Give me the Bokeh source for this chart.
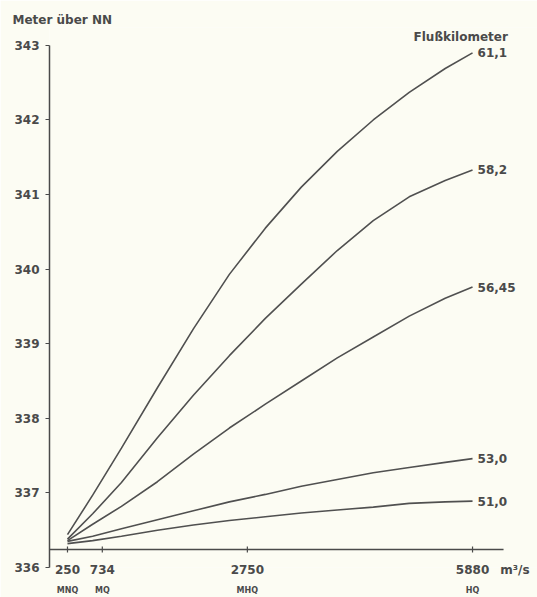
import math

from bokeh.core.properties import value
from bokeh.embed import file_html
from bokeh.models import ColumnDataSource, FixedTicker, Label, LabelSet, LinearAxis
from bokeh.plotting import figure
from bokeh.resources import INLINE

# Discharge (m³/s) at which the water levels were read
discharge = [250, 600, 1000, 1500, 2000, 2500, 3000, 3500, 4000, 4500, 5000, 5500, 5880]

# Water level (m above sea level) at each river kilometre
level_km_61_1 = [336.44, 336.97, 337.60, 338.41, 339.20, 339.93, 340.55, 341.10, 341.58, 342.00, 342.37, 342.69, 342.90]
level_km_58_2 = [336.38, 336.72, 337.14, 337.74, 338.31, 338.84, 339.34, 339.80, 340.25, 340.65, 340.97, 341.19, 341.33]
level_km_56_45 = [336.36, 336.58, 336.82, 337.15, 337.52, 337.87, 338.19, 338.50, 338.81, 339.09, 339.37, 339.61, 339.76]
level_km_53_0 = [336.35, 336.42, 336.52, 336.64, 336.76, 336.88, 336.98, 337.09, 337.18, 337.27, 337.34, 337.41, 337.46]
level_km_51_0 = [336.32, 336.36, 336.42, 336.50, 336.57, 336.63, 336.68, 336.73, 336.77, 336.81, 336.86, 336.88, 336.89]

km_names = ["61,1", "58,2", "56,45", "53,0", "51,0"]
km_levels = [level_km_61_1, level_km_58_2, level_km_56_45, level_km_53_0, level_km_51_0]

# Characteristic discharges
q_ticks = [250, 734, 2750, 5880]
q_tick_labels = ["250", "734", "2750", "5880"]
q_names = ["MNQ", "MQ", "MHQ", "HQ"]
level_ticks = [336, 337, 338, 339, 340, 341, 342, 343]

# Layout constants
BASE_LEVEL = 336.24   # level along which the discharge axis is drawn
Q_AXIS_END = 6311     # right end of the discharge axis line
UNIT_POS = 6470       # where the unit is written after the last tick
X_END = 6783
Y_END = 343.24

INK = "#4a4a4a"
CURVE = "#505050"
PAPER = "#fcfcf3"
FONT_NAME = "DejaVu Sans"
FONT = value(FONT_NAME)

p = figure(
    width=537, height=597,
    x_range=(0, X_END), y_range=(336, Y_END),
    x_axis_location=None, y_axis_location=None,
    min_border_left=49, min_border_right=0, min_border_top=27, min_border_bottom=30,
    background_fill_color=PAPER, border_fill_color=PAPER,
    outline_line_color=None,
    output_backend="svg", toolbar_location=None,
)
p.grid.visible = False

p.title.text = "Meter über NN"
p.title.align = "left"
p.title.offset = -37
p.title.standoff = 2
p.title.text_font = FONT_NAME
p.title.text_font_style = "bold"
p.title.text_font_size = "12px"
p.title.text_color = INK

# Level axis
yaxis = LinearAxis(ticker=FixedTicker(ticks=level_ticks), bounds=(level_ticks[0], level_ticks[-1]))
yaxis.axis_line_color = INK
yaxis.axis_line_width = 1.5
yaxis.major_tick_line_color = INK
yaxis.major_tick_line_width = 1.2
yaxis.major_tick_in = 0
yaxis.major_tick_out = 4
yaxis.minor_tick_line_color = None
yaxis.major_label_standoff = 6
yaxis.major_label_text_font = FONT_NAME
yaxis.major_label_text_font_style = "bold"
yaxis.major_label_text_font_size = "12px"
yaxis.major_label_text_color = INK
p.add_layout(yaxis, "left")


def label_axis(ticks, labels, size, standoff):
    ax = LinearAxis(ticker=FixedTicker(ticks=ticks),
                    major_label_overrides=dict(zip(ticks, labels)))
    ax.axis_line_color = None
    ax.major_tick_line_color = None
    ax.minor_tick_line_color = None
    ax.major_tick_in = 0
    ax.major_tick_out = 0
    ax.major_label_standoff = standoff
    ax.major_label_text_font = FONT_NAME
    ax.major_label_text_font_style = "bold"
    ax.major_label_text_font_size = size
    ax.major_label_text_color = INK
    return ax


# Discharge values (with the unit) and their names underneath
p.add_layout(label_axis(q_ticks + [UNIT_POS], q_tick_labels + ["m³/s"], "12px", -5), "below")
p.add_layout(label_axis(q_ticks, q_names, "8px", 6), "below")

# Rating curves
for levels in km_levels:
    p.line(discharge, levels, line_color=CURVE, line_width=1.6)

# Discharge axis line with its tick marks
p.segment(x0=[0], y0=[BASE_LEVEL], x1=[Q_AXIS_END], y1=[BASE_LEVEL],
          line_color=INK, line_width=1.5)
p.scatter(x=q_ticks, y=[BASE_LEVEL] * len(q_ticks), marker="dash", angle=math.pi / 2,
          size=6, line_color=INK, line_width=1.2)

end_src = ColumnDataSource(dict(
    x=[discharge[-1]] * len(km_names),
    y=[lv[-1] for lv in km_levels],
    text=km_names,
))
p.add_layout(LabelSet(x="x", y="y", text="text", source=end_src, x_offset=5,
                      text_baseline="middle", text_font=FONT, text_font_style="bold",
                      text_font_size="12px", text_color=INK))

p.add_layout(Label(x=discharge[-1], y=level_ticks[-1], text="Flußkilometer", x_offset=-59,
                   y_offset=8, text_baseline="middle", text_font=FONT_NAME,
                   text_font_style="bold", text_font_size="12px", text_color=INK))

open("out.html", "w").write(file_html(p, INLINE))
